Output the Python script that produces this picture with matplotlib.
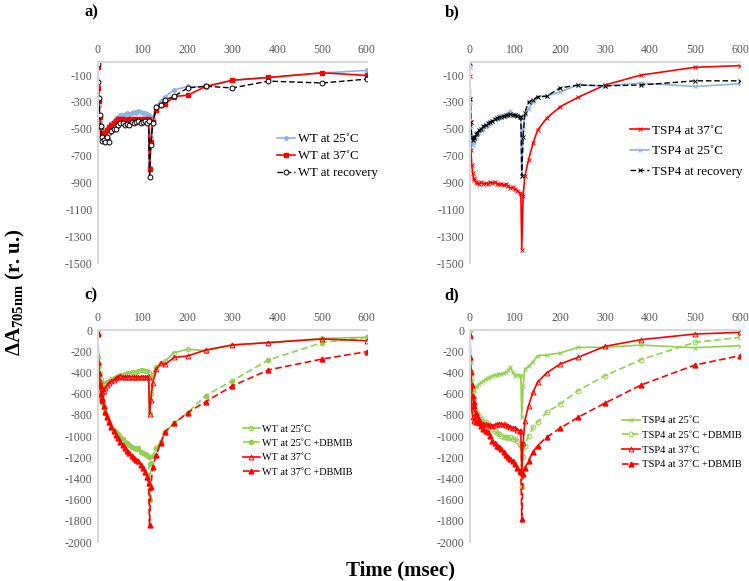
import matplotlib
matplotlib.use("Agg")
import matplotlib.pyplot as plt

plt.rcParams['font.family'] = ['Liberation Serif', 'DejaVu Serif']
plt.rcParams['axes.unicode_minus'] = False
plt.rcParams['mathtext.fontset'] = 'custom'
plt.rcParams['mathtext.rm'] = 'Liberation Serif'
plt.rcParams['mathtext.bf'] = 'Liberation Serif:bold'

# time points (msec), shared by all series
t = [0, 1, 2, 4, 6, 8, 10, 13, 16, 20, 25, 30, 35, 40, 45, 50, 55, 60, 65, 70,
     75, 80, 85, 90, 95, 100, 105, 110, 113, 115, 118, 122, 130, 140, 150, 170,
     200, 240, 300, 380, 500, 600]

# panel a) WT
wt25_a = [-30, -180, -330, -450, -520, -545, -555, -540, -520, -500, -480, -460, -440, -420, -410, -400,
          -395, -400, -385, -390, -380, -375, -385, -370, -375, -380, -385, -390, -395, -790, -560, -420,
          -330, -290, -260, -210, -185, -190, -140, -118, -85, -65]
wt37_a = [-40, -200, -290, -410, -490, -530, -550, -545, -530, -510, -490, -470, -455, -440, -430, -425,
          -430, -440, -435, -430, -430, -425, -435, -425, -430, -430, -425, -430, -425, -800, -600, -450,
          -360, -325, -315, -260, -250, -185, -138, -118, -83, -103]
wtrec_a = [-20, -150, -270, -400, -480, -560, -590, -580, -600, -560, -600, -520, -500, -500, -470, -460,
           -460, -470, -465, -475, -450, -455, -450, -445, -455, -450, -445, -455, -440, -860, -620, -460,
           -340, -326, -284, -258, -196, -183, -196, -145, -159, -130]

# panel b) TSP4
tsp37_b = [-110, -450, -660, -770, -830, -870, -885, -895, -905, -910, -900, -910, -905, -910, -900, -905,
           -895, -910, -915, -910, -920, -910, -930, -940, -935, -950, -960, -975, -985, -1400, -1000, -850,
           -733, -609, -510, -422, -336, -266, -174, -100, -42, -30]
tsp25_b = [-40, -300, -480, -590, -620, -600, -580, -560, -550, -530, -510, -500, -490, -470, -460, -440,
           -430, -420, -420, -400, -410, -400, -380, -370, -390, -400, -395, -405, -410, -850, -500, -400,
           -350, -300, -261, -255, -226, -174, -180, -160, -185, -165]
tsprec_b = [-10, -280, -450, -560, -580, -570, -560, -540, -530, -510, -500, -480, -470, -460, -450, -440,
            -430, -420, -410, -415, -405, -400, -395, -390, -395, -400, -405, -410, -415, -850, -560, -380,
            -300, -284, -261, -258, -196, -174, -180, -174, -143, -143]

# panel c) WT +/- DBMIB
wt25_c = [0, -250, -330, -410, -460, -490, -503, -510, -500, -490, -480, -465, -450, -440, -430, -425,
          -420, -415, -410, -405, -400, -400, -395, -385, -380, -377, -385, -390, -395, -786, -600, -420,
          -346, -314, -290, -214, -182, -195, -141, -119, -79, -69]
wt25db_c = [-50, -350, -480, -597, -640, -670, -692, -740, -780, -818, -870, -912, -940, -959, -985, -1006,
            -1030, -1053, -1070, -1085, -1100, -1116, -1120, -1110, -1150, -1163, -1170, -1182, -1195, -1604,
            -1258, -1190, -1116, -1053, -959, -880, -780, -619, -478, -283, -119, -69]
wt37_c = [-38, -300, -409, -480, -530, -560, -582, -575, -550, -520, -500, -480, -470, -455, -440, -431,
          -440, -445, -440, -440, -440, -440, -445, -440, -440, -440, -445, -440, -445, -796, -660, -503,
          -371, -314, -324, -258, -245, -189, -141, -119, -85, -101]
wt37db_c = [-30, -300, -409, -520, -600, -640, -660, -720, -770, -818, -870, -912, -950, -990, -1020, -1053,
            -1085, -1116, -1140, -1163, -1190, -1211, -1225, -1233, -1270, -1305, -1340, -1384, -1447, -1840,
            -1478, -1296, -1179, -1063, -959, -880, -780, -676, -528, -377, -274, -204]

# panel d) TSP4 +/- DBMIB
tsp25_d = [0, -250, -400, -500, -560, -588, -570, -540, -525, -510, -495, -478, -465, -450, -440, -431,
           -425, -420, -415, -415, -410, -400, -380, -352, -400, -430, -420, -425, -430, -824, -525, -368,
           -343, -300, -242, -236, -217, -164, -164, -142, -167, -148]
tsp25db_d = [0, -300, -450, -556, -640, -714, -740, -770, -792, -810, -840, -860, -870, -887, -910, -930,
             -950, -970, -985, -997, -1005, -1013, -1020, -1010, -1028, -1028, -1050, -1076, -1090, -1484,
             -1202, -1091, -997, -918, -871, -777, -698, -572, -431, -280, -116, -69]
tsp37_d = [-60, -368, -600, -745, -824, -850, -855, -865, -871, -875, -880, -887, -890, -895, -900, -902,
           -895, -890, -885, -887, -890, -895, -910, -915, -920, -925, -940, -950, -955, -1343, -1069, -855,
           -714, -588, -494, -406, -321, -258, -154, -91, -38, -22]
tsp37db_d = [-50, -250, -400, -520, -620, -680, -720, -780, -808, -850, -902, -930, -950, -965, -1000, -1044,
             -1070, -1090, -1107, -1120, -1150, -1180, -1202, -1220, -1240, -1265, -1300, -1327, -1340, -1783,
             -1359, -1300, -1233, -1150, -1091, -1013, -927, -824, -689, -519, -330, -242]

RED = '#FF0000'
GREEN = '#92D050'
BLUE = '#8DB4E2'
GRID = '#D9D9D9'
TICK = '#595959'


def style_axes(ax, ymin, yticks):
    ax.set_xlim(0, 600)
    ax.set_ylim(ymin, 0)
    ax.xaxis.tick_top()
    ax.set_xticks(range(0, 601, 100))
    ax.set_yticks(yticks)
    ax.tick_params(length=0, labelsize=8.5, labelcolor=TICK, pad=4)
    for s in ['right', 'bottom']:
        ax.spines[s].set_visible(False)
    for s in ['left', 'top']:
        ax.spines[s].set_color(GRID)
        ax.spines[s].set_linewidth(1.5)
    ax.patch.set_alpha(0)


def add_legend(ax, anchor, size, hl, ls):
    ax.legend(loc='center left', bbox_to_anchor=anchor, frameon=False, fontsize=size,
              borderpad=0, borderaxespad=0, handlelength=hl, handletextpad=0.2, labelspacing=ls)


fig = plt.figure(figsize=(7.49, 5.81), dpi=100)
ax_a = fig.add_axes([0.1308, 0.5473, 0.3591, 0.3466])
ax_b = fig.add_axes([0.6275, 0.5473, 0.3605, 0.3466])
ax_c = fig.add_axes([0.1308, 0.0671, 0.3591, 0.3649])
ax_d = fig.add_axes([0.6275, 0.0671, 0.3605, 0.3649])

# a)
ax_a.plot(t, wt25_a, color=BLUE, lw=1.2, marker='o', ms=2.5, label='WT at 25˚C')
ax_a.plot(t, wt37_a, color=RED, lw=1.2, marker='s', ms=3, label='WT at 37˚C')
ax_a.plot(t, wtrec_a, color='black', lw=1, ls=(0, (4, 2)), marker='o', ms=3.5, mfc='white',
          mec='black', mew=0.7, label='WT at recovery')
style_axes(ax_a, -1500, range(-100, -1501, -200))
add_legend(ax_a, (0.665, 0.531), 9.2, 1.45, 0.39)

# b)
ax_b.plot(t, tsp37_b, color=RED, lw=1.2, marker='x', ms=3, mew=0.7, label='TSP4 at 37˚C')
ax_b.plot(t, tsp25_b, color=BLUE, lw=1.2, marker='x', ms=3, mew=0.7, label='TSP4 at 25˚C')
ax_b.plot(t, tsprec_b, color='black', lw=1, ls=(0, (4, 2)), marker='x', ms=3, mew=0.7,
          label='TSP4 at recovery')
style_axes(ax_b, -1500, range(-100, -1501, -200))
add_legend(ax_b, (0.593, 0.556), 9.4, 1.45, 0.64)

# c)
ax_c.plot(t, wt25_c, color=GREEN, lw=1.2, marker='o', ms=3, mfc='none', mew=0.7, label='WT at 25˚C')
ax_c.plot(t, wt25db_c, color=GREEN, lw=1.2, ls=(0, (4, 2)), marker='o', ms=3, label='WT at 25˚C +DBMIB')
ax_c.plot(t, wt37_c, color=RED, lw=1.2, marker='^', ms=3.5, mfc='none', mew=0.7, label='WT at 37˚C')
ax_c.plot(t, wt37db_c, color=RED, lw=1.2, ls=(0, (4, 2)), marker='^', ms=3.5, label='WT at 37˚C +DBMIB')
style_axes(ax_c, -2000, range(0, -2001, -200))
add_legend(ax_c, (0.539, 0.432), 7.4, 1.65, 0.5)

# d)
ax_d.plot(t, tsp25_d, color=GREEN, lw=1.2, marker='x', ms=2.5, mew=0.7, label='TSP4 at 25˚C')
ax_d.plot(t, tsp25db_d, color=GREEN, lw=1.2, ls=(0, (4, 2)), marker='o', ms=3.5, mfc='none', mew=0.7,
          label='TSP4 at 25˚C +DBMIB')
ax_d.plot(t, tsp37_d, color=RED, lw=1.2, marker='^', ms=3.5, mfc='none', mew=0.7, label='TSP4 at 37˚C')
ax_d.plot(t, tsp37db_d, color=RED, lw=1.2, ls=(0, (4, 2)), marker='^', ms=3.5, label='TSP4 at 37˚C +DBMIB')
style_axes(ax_d, -2000, range(0, -2001, -200))
add_legend(ax_d, (0.563, 0.469), 7.6, 1.7, 0.5)

# panel letters
fig.text(91 / 749, 1 - 12 / 581, 'a)', ha='center', va='center', fontsize=12, fontweight='bold')
fig.text(452 / 749, 1 - 12 / 581, 'b)', ha='center', va='center', fontsize=12, fontweight='bold')
fig.text(91 / 749, 1 - 295 / 581, 'c)', ha='center', va='center', fontsize=12, fontweight='bold')
fig.text(452 / 749, 1 - 295 / 581, 'd)', ha='center', va='center', fontsize=12, fontweight='bold')

fig.text(15 / 749, 1 - 292 / 581, r'$\mathbf{\Delta A_{705nm}}$ (r. u.)', rotation=90,
         ha='center', va='center', fontsize=15, fontweight='bold')
fig.text(400 / 749, 1 - 570 / 581, 'Time (msec)', ha='center', va='center', fontsize=15,
         fontweight='bold')

fig.savefig('out.png', dpi=100)
